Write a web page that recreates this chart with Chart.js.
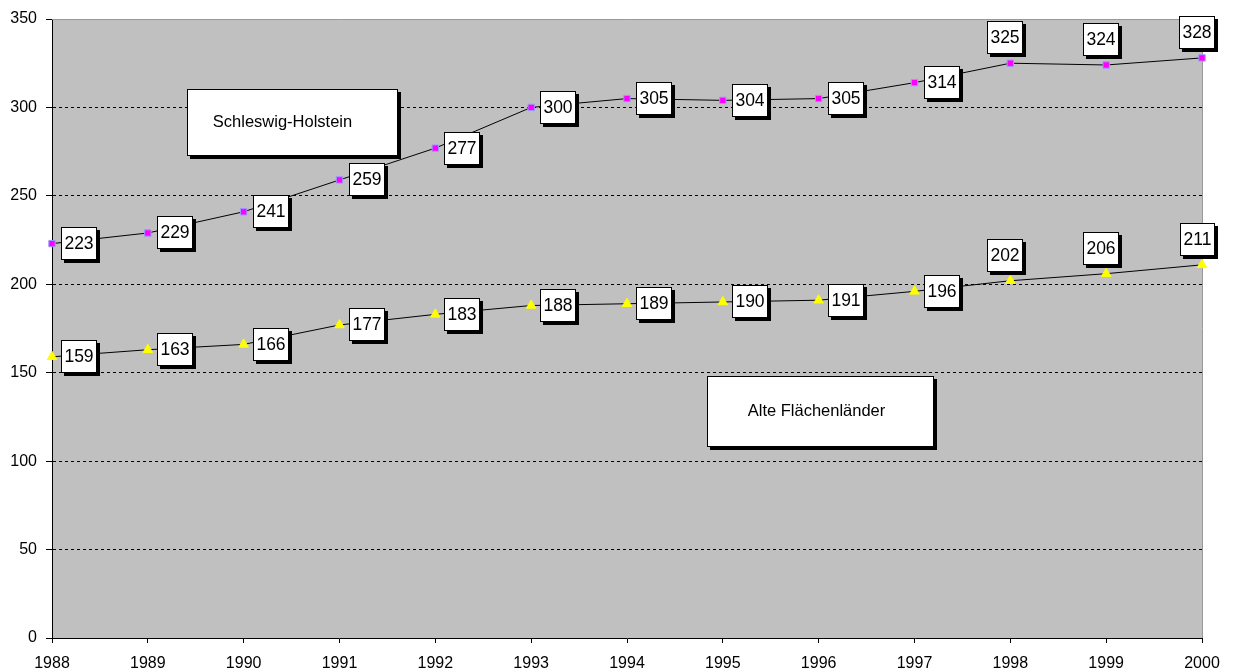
<!DOCTYPE html>
<html lang="de">
<head>
<meta charset="UTF-8">
<title>Schleswig-Holstein / Alte Flächenländer</title>
<script src="https://cdn.jsdelivr.net/npm/chart.js"></script>
<style>
    body { margin: 0; background: #fff; }
    #wrap { width: 1233px; height: 671px; }
</style>
</head>
<body>
<div id="wrap"><canvas id="chart" width="1233" height="671"></canvas></div>
<script>
    const years = ['1988', '1989', '1990', '1991', '1992', '1993', '1994', '1995', '1996', '1997', '1998', '1999', '2000'];
    const schleswigHolstein = [223, 229, 241, 259, 277, 300, 305, 304, 305, 314, 325, 324, 328];
    const alteFlaechenlaender = [159, 163, 166, 177, 183, 188, 189, 190, 191, 196, 202, 206, 211];
    const seriesNames = ['Schleswig-Holstein', 'Alte Flächenländer'];

    const FONT = '"Liberation Sans", Arial, sans-serif';

    function drawBox(ctx, x, y, w, h) {
        x = Math.round(x); y = Math.round(y);
        ctx.fillStyle = '#000';
        ctx.fillRect(x + 3, y + 3, w, h);
        ctx.fillStyle = '#fff';
        ctx.fillRect(x, y, w, h);
        ctx.strokeStyle = '#000';
        ctx.lineWidth = 1;
        ctx.strokeRect(x + 0.5, y + 0.5, w - 1, h - 1);
        return [x, y];
    }

    // grey plot area + light border on top/right
    const plotArea = {
        id: 'plotArea',
        beforeDraw(chart) {
            const a = chart.chartArea, ctx = chart.ctx;
            ctx.save();
            ctx.fillStyle = '#c0c0c0';
            ctx.fillRect(a.left, a.top, a.right - a.left, a.bottom - a.top);
            ctx.restore();
        },
        beforeDatasetsDraw(chart) {
            const a = chart.chartArea, ctx = chart.ctx;
            ctx.save();
            ctx.strokeStyle = '#999';
            ctx.lineWidth = 1;
            ctx.beginPath();
            ctx.moveTo(a.left, Math.round(a.top) + 0.5);
            ctx.lineTo(Math.round(a.right) + 0.5, Math.round(a.top) + 0.5);
            ctx.lineTo(Math.round(a.right) + 0.5, a.bottom);
            ctx.stroke();
            ctx.restore();
        }
    };

    // value boxes next to / above each point
    const valueBoxes = {
        id: 'valueBoxes',
        afterDatasetsDraw(chart) {
            const ctx = chart.ctx;
            ctx.save();
            ctx.font = '17.5px ' + FONT;
            chart.data.datasets.forEach((ds, di) => {
                const meta = chart.getDatasetMeta(di);
                meta.data.forEach((pt, i) => {
                    const txt = String(ds.data[i]);
                    const w = Math.round(ctx.measureText(txt).width) + 7;
                    const h = 33;
                    let x, y;
                    if (i >= 10) {
                        x = pt.x - 5 - w / 2;
                        y = pt.y - 9 - h;
                    } else {
                        x = pt.x + 9;
                        y = pt.y - h / 2;
                    }
                    const p = drawBox(ctx, x, y, w, h);
                    ctx.fillStyle = '#000';
                    ctx.textAlign = 'center';
                    ctx.textBaseline = 'middle';
                    ctx.fillText(txt, p[0] + w / 2, p[1] + h / 2 + 1);
                });
            });
            ctx.restore();
        }
    };

    // series name boxes, placed in data units
    const nameBoxes = {
        id: 'nameBoxes',
        afterDraw(chart) {
            const xs = chart.scales.x, ys = chart.scales.y, ctx = chart.ctx;
            const boxes = [
                { text: seriesNames[0], x0: 1.41, x1: 3.61, y0: 310.4, y1: 272.5, dx: -10 },
                { text: seriesNames[1], x0: 6.835, x1: 9.204, y0: 148.1, y1: 108, dx: -4 }
            ];
            ctx.save();
            ctx.font = '16.5px ' + FONT;
            boxes.forEach(b => {
                const l = xs.getPixelForValue(b.x0), r = xs.getPixelForValue(b.x1);
                const t = ys.getPixelForValue(b.y0), bt = ys.getPixelForValue(b.y1);
                const w = Math.round(r - l), h = Math.round(bt - t);
                const p = drawBox(ctx, l, t, w, h);
                ctx.fillStyle = '#000';
                ctx.textAlign = 'center';
                ctx.textBaseline = 'middle';
                ctx.fillText(b.text, p[0] + w / 2 + b.dx, p[1] + h / 2);
            });
            ctx.restore();
        }
    };

    Chart.defaults.color = '#000';
    Chart.defaults.font.family = FONT;

    new Chart(document.getElementById('chart'), {
        type: 'line',
        data: {
            labels: years,
            datasets: [{
                label: seriesNames[0],
                data: schleswigHolstein,
                borderColor: '#000',
                borderWidth: 1,
                pointStyle: 'rect',
                pointRadius: 4.5,
                pointBackgroundColor: '#ff00ff',
                pointBorderColor: '#9999ff',
                pointBorderWidth: 1,
                tension: 0
            }, {
                label: seriesNames[1],
                data: alteFlaechenlaender,
                borderColor: '#000',
                borderWidth: 1,
                pointStyle: 'triangle',
                pointRadius: 5.5,
                pointBackgroundColor: '#ffff00',
                pointBorderColor: '#ffff00',
                pointBorderWidth: 1,
                tension: 0
            }]
        },
        options: {
            responsive: false,
            animation: false,
            events: [],
            layout: { padding: { top: 19, right: 31, bottom: 0, left: 0 } },
            plugins: {
                legend: { display: false },
                tooltip: { enabled: false }
            },
            scales: {
                x: {
                    offset: false,
                    grid: { drawOnChartArea: false, drawTicks: true, tickLength: 5, tickColor: '#000' },
                    border: { color: '#000', width: 1 },
                    ticks: { font: { size: 16 }, padding: 11, maxRotation: 0, autoSkip: false },
                    afterFit: s => { s.height = 33; }
                },
                y: {
                    min: 0,
                    max: 350,
                    ticks: { stepSize: 50, font: { size: 16 }, padding: 9 },
                    grid: {
                        color: c => (c.tick && (c.tick.value === 0 || c.tick.value === 350)) ? 'rgba(0,0,0,0)' : '#000',
                        tickColor: '#000',
                        tickLength: 6,
                        tickBorderDash: []
                    },
                    border: { color: '#000', width: 1, dash: [3, 3] },
                    afterFit: s => { s.width = 52; }
                }
            }
        },
        plugins: [plotArea, valueBoxes, nameBoxes]
    });
</script>
</body>
</html>
